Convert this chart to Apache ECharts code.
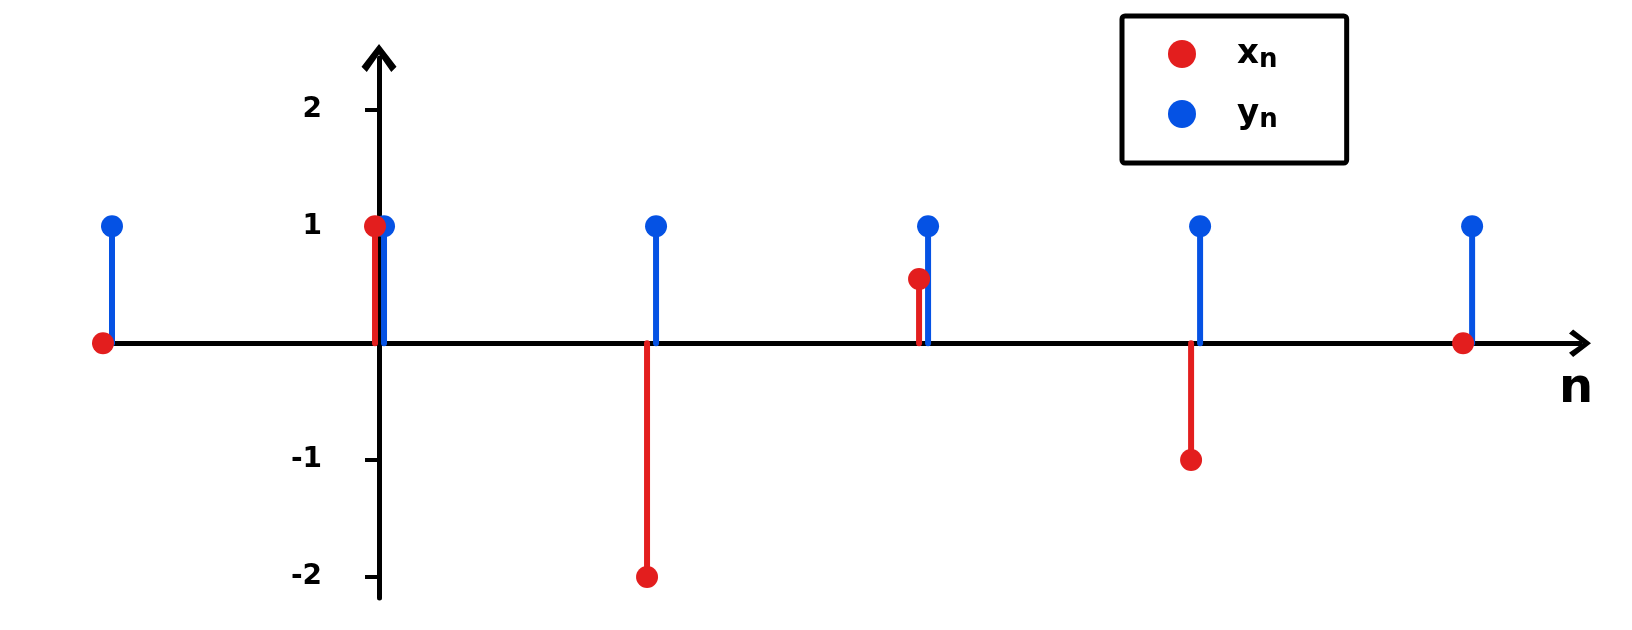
<!DOCTYPE html>
<html>
<head>
<meta charset="utf-8">
<script src="https://cdn.jsdelivr.net/npm/echarts@6/dist/echarts.min.js"></script>
<style>
  html, body { margin: 0; padding: 0; background: #ffffff; }
  #chart { width: 1632px; height: 630px; }
</style>
</head>
<body>
<div id="chart"></div>
<script>
// sample index n
const nValues = [-1, 0, 1, 2, 3, 4];
// x_n values (red)
const xnValues = [0, 1, -2, 0.55, -1, 0];
// y_n values (blue)
const ynValues = [1, 1, 1, 1, 1, 1];
// y tick labels
const yTicks = [-2, -1, 1, 2];
const seriesNames = ['x_n', 'y_n'];

const RED = '#e31e1e';
const BLUE = '#0552e4';
const chevron = 'path://M10,0 L20,13 L17,16 L10,6 L3,16 L0,13 Z';

function stemRenderer(offset) {
  return function (params, api) {
    const n = api.value(0);
    const v = api.value(1);
    const base = api.coord([n, 0]);
    const tip = api.coord([n, v]);
    const color = api.visual('color');
    return {
      type: 'group',
      children: [
        {
          type: 'line',
          shape: { x1: base[0] + offset, y1: base[1], x2: tip[0] + offset, y2: tip[1] },
          style: { stroke: color, lineWidth: 6, lineCap: 'round' }
        },
        {
          type: 'circle',
          shape: { cx: tip[0] + offset, cy: tip[1], r: 11 },
          style: { fill: color }
        }
      ]
    };
  };
}

const chart = echarts.init(document.getElementById('chart'));
chart.setOption({
  animation: false,
  backgroundColor: '#ffffff',
  grid: { left: 107, right: 52, top: 58, bottom: 32, containLabel: false, outerBoundsMode: 'none' },
  legend: {
    data: seriesNames,
    orient: 'vertical',
    left: 1122,
    top: 16,
    padding: [21, 69, 30, 46],
    itemWidth: 100,
    itemHeight: 28,
    itemGap: 24,
    icon: 'circle',
    borderColor: '#000',
    borderWidth: 5,
    borderRadius: 3,
    formatter: function (name) {
      const parts = name.split('_');
      return '{m|' + parts[0] + '}{s|' + parts[1] + '}';
    },
    textStyle: {
      color: '#000',
      rich: {
        m: { fontSize: 34, fontFamily: 'DejaVu Sans', fontWeight: 'bold', color: '#000' },
        s: { fontSize: 26, fontFamily: 'DejaVu Sans', fontWeight: 'bold', color: '#000', padding: [12, 0, 0, 0] }
      }
    }
  },
  xAxis: {
    type: 'value',
    min: -1.0,
    max: 4.415,
    name: 'n',
    nameLocation: 'end',
    nameGap: -4,
    nameTextStyle: {
      fontSize: 48,
      fontFamily: 'DejaVu Sans',
      fontWeight: 'bold',
      color: '#000',
      align: 'center',
      verticalAlign: 'top',
      padding: [22, 0, 0, 0]
    },
    axisLine: {
      onZero: true,
      symbol: ['none', chevron],
      symbolSize: [30, 22],
      lineStyle: { color: '#000', width: 5 }
    },
    axisTick: { show: false },
    axisLabel: { show: false },
    splitLine: { show: false }
  },
  yAxis: {
    type: 'value',
    min: -2.18,
    max: 2.44,
    axisLine: {
      onZero: true,
      symbol: ['none', chevron],
      symbolSize: [42, 28],
      lineStyle: { color: '#000', width: 5 }
    },
    axisTick: {
      show: true,
      length: 14,
      customValues: yTicks,
      lineStyle: { color: '#000', width: 4 }
    },
    axisLabel: {
      show: true,
      customValues: yTicks,
      margin: -215,
      fontSize: 28,
      fontFamily: 'DejaVu Sans',
      fontWeight: 'bold',
      color: '#000'
    },
    splitLine: { show: false }
  },
  series: [
    {
      name: 'y_n',
      type: 'custom',
      itemStyle: { color: BLUE },
      renderItem: stemRenderer(5),
      encode: { x: 0, y: 1 },
      data: nValues.map((n, i) => [n, ynValues[i]]),
      z: 3
    },
    {
      name: 'x_n',
      type: 'custom',
      itemStyle: { color: RED },
      renderItem: stemRenderer(-4),
      encode: { x: 0, y: 1 },
      data: nValues.map((n, i) => [n, xnValues[i]]),
      z: 4
    }
  ]
});
</script>
</body>
</html>
